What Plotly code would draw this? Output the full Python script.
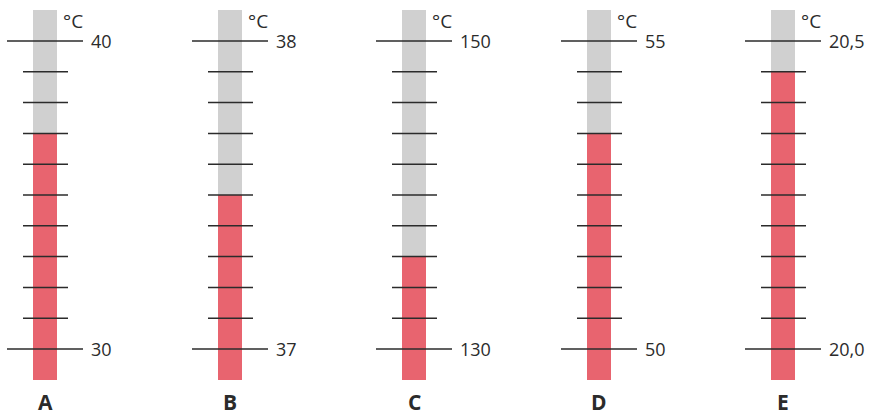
import plotly.graph_objects as go

# ---- data ----
labels = ["A", "B", "C", "D", "E"]
scale_min = [30, 37, 130, 50, 20.0]
scale_max = [40, 38, 150, 55, 20.5]
readings = [37, 37.5, 136, 53.5, 20.45]
top_labels = ["40", "38", "150", "55", "20,5"]
bottom_labels = ["30", "37", "130", "50", "20,0"]
n_div = 10

# ---- layout constants (pixels) ----
W, H = 871, 417
centers = [45, 230, 414, 599, 783]
px_top_tick, px_bot_tick = 41, 349
px_tube_top, px_tube_bot = 10, 380
tube_w = 24
major_half = 38
minor_l, minor_r = 22, 23

GRAY = "#d0d0d0"
RED = "#e8646f"
INK = "#2b2b2b"
FONT = "Open Sans"

fig = go.Figure()
layout_axes = {}
annotations = []

tick_px_span = px_bot_tick - px_top_tick
for i, lab in enumerate(labels):
    lo, hi, val = scale_min[i], scale_max[i], readings[i]
    s = hi - lo
    per_px = s / tick_px_span
    r0 = lo - (H - px_bot_tick) * per_px
    r1 = hi + px_top_tick * per_px
    tube_bot = lo - (px_tube_bot - px_bot_tick) * per_px
    tube_top = hi + (px_top_tick - px_tube_top) * per_px
    yname = "y" if i == 0 else f"y{i+1}"
    key = "yaxis" if i == 0 else f"yaxis{i+1}"
    ax = dict(range=[r0, r1], visible=False, fixedrange=True)
    if i > 0:
        ax["overlaying"] = "y"
    layout_axes[key] = ax
    c = centers[i]

    # gray tube
    fig.add_trace(go.Bar(x=[c], y=[tube_top - tube_bot], base=[tube_bot], width=tube_w,
                         marker=dict(color=GRAY, line=dict(width=0)), yaxis=yname,
                         showlegend=False, hoverinfo="skip"))
    # red liquid
    fig.add_trace(go.Bar(x=[c], y=[val - tube_bot], base=[tube_bot], width=tube_w,
                         marker=dict(color=RED, line=dict(width=0)), yaxis=yname,
                         showlegend=False, hovertemplate=f"{lab}: {val}<extra></extra>"))
    # tick marks
    xs, ys = [], []
    for k in range(n_div + 1):
        tv = lo + k * s / n_div
        if k == 0 or k == n_div:
            xs += [c - major_half, c + major_half, None]
        else:
            xs += [c - minor_l, c + minor_r, None]
        ys += [tv, tv, None]
    fig.add_trace(go.Scatter(x=xs, y=ys, mode="lines", line=dict(color=INK, width=1.5),
                             yaxis=yname, showlegend=False, hoverinfo="skip"))
    # labels
    annotations.append(dict(x=c + 44, y=hi, xref="x", yref=yname, text=top_labels[i],
                            showarrow=False, xanchor="left", yanchor="middle",
                            font=dict(family=FONT, size=18, color=INK)))
    annotations.append(dict(x=c + 44, y=lo, xref="x", yref=yname, text=bottom_labels[i],
                            showarrow=False, xanchor="left", yanchor="middle",
                            font=dict(family=FONT, size=18, color=INK)))
    annotations.append(dict(x=c + 16, y=hi + 20 * per_px, xref="x", yref=yname, text="°C",
                            showarrow=False, xanchor="left", yanchor="middle",
                            font=dict(family=FONT, size=19, color=INK)))
    annotations.append(dict(x=c, y=0, xref="x", yref="paper", borderpad=0,
                            text=f"<b>{lab}</b>", showarrow=False, xanchor="center",
                            yanchor="bottom", font=dict(family=FONT, size=21, color=INK)))

fig.update_layout(
    width=W, height=H, margin=dict(l=0, r=0, t=0, b=0),
    paper_bgcolor="white", plot_bgcolor="white",
    barmode="overlay", bargap=0,
    xaxis=dict(range=[0, W], visible=False, fixedrange=True),
    annotations=annotations,
    **layout_axes,
)

fig.write_html("out.html", config={"displayModeBar": False},
               post_script="document.body.style.margin='0';document.body.style.overflow='hidden';")
